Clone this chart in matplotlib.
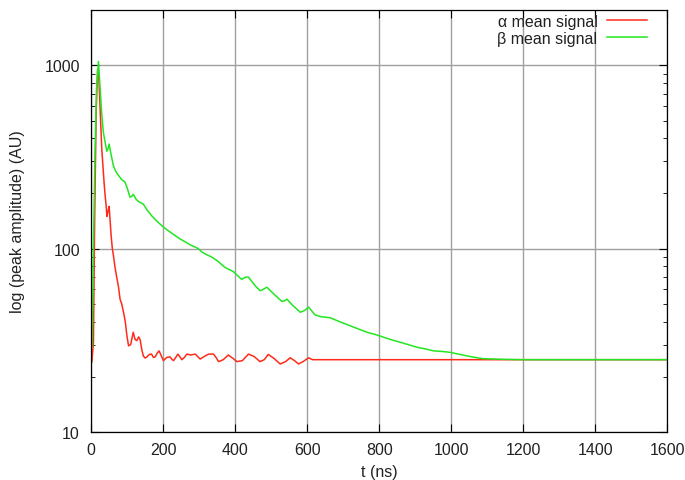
import matplotlib.pyplot as plt
from matplotlib.ticker import LogLocator, NullFormatter, FixedLocator

plt.rcParams['font.family'] = ['Liberation Sans', 'DejaVu Sans']

# alpha mean signal (t in ns, amplitude in AU)
t_alpha = [0, 2, 6.5, 10, 14, 18, 21, 25, 29.6, 33, 36, 39, 41.7, 44, 47, 50, 52, 55.6,
           59, 62, 66, 71, 76, 80.5, 85, 90, 95, 99, 104, 110, 117, 122, 127, 132, 136,
           141, 145, 150, 155, 162, 168, 173, 178, 184, 189, 195, 201, 210, 219, 224, 229,
           235, 241, 246, 252, 259, 266, 277, 289, 296, 303, 314, 326, 333, 340, 347, 354,
           367, 381, 393, 405, 420, 437, 453, 469, 481, 492, 508, 525, 540, 553, 565, 576,
           590, 604, 615, 630, 700, 800, 900, 1000, 1100, 1200, 1300, 1400, 1500, 1600]
a_alpha = [24, 24, 31, 150, 550, 950, 900, 580, 350, 280, 230, 195, 172, 150, 160, 170, 150, 118,
           100, 92, 80, 70, 62, 53, 50, 45, 40, 34, 29.5, 30, 35, 32, 31.5, 33, 32,
           28, 26, 25.3, 25.7, 26.5, 26.6, 25.5, 25.7, 27, 27.7, 26, 24.5, 25.5, 25.7, 25, 24.5,
           25.5, 26.6, 25.8, 24.8, 25.5, 26.6, 26.3, 26.6, 25.8, 25, 25.8, 26.6, 26.6, 26.6, 25.5, 24.2,
           24.8, 26.3, 25.3, 24.2, 24.5, 26.6, 25.8, 24.2, 24.8, 26.5, 25.2, 23.5, 24.2, 25.4, 24.5, 23.5,
           24.3, 25.4, 24.8, 24.8, 24.8, 24.8, 24.8, 24.8, 24.8, 24.8, 24.8, 24.8, 24.8, 24.8]

# beta mean signal
t_beta = [0, 3, 6.5, 11, 15, 20.4, 25, 29, 34, 39, 43.6, 47, 50, 55, 62, 68, 76, 85, 94,
          100, 108, 113, 117, 125, 133, 145, 156, 168.5, 180, 199, 215, 233, 247, 261, 275,
          289, 298, 307, 320, 335, 350, 372, 395, 418, 430, 437, 442, 455, 469, 478, 488,
          510, 530, 537, 544, 560, 581, 593, 604, 622, 640, 664, 690, 719, 742, 766, 790,
          812, 835, 858, 880, 905, 928, 951, 975, 997, 1020, 1044, 1067, 1090, 1120, 1150,
          1200, 1250, 1300, 1400, 1500, 1600]
a_beta = [28, 30, 100, 350, 750, 1050, 750, 560, 431, 380, 340, 350, 372, 330, 283, 265, 251, 238, 231,
          215, 191, 193, 198, 186, 180, 175, 162, 151, 143, 132, 125, 118, 113, 109, 105,
          102, 100, 96, 93, 90, 86, 79, 75, 68, 70, 70, 68, 63, 59, 60, 61.6,
          56, 51.5, 52, 53, 49, 45, 46, 48, 43.5, 42.5, 42, 40, 38, 36.5, 35, 34,
          32.9, 31.8, 30.9, 30, 29, 28.4, 27.7, 27.5, 27.2, 26.6, 26, 25.5, 25.1, 25, 24.9,
          24.8, 24.8, 24.8, 24.8, 24.8, 24.8]

fig = plt.figure(figsize=(6.85, 4.81), dpi=100)
ax = fig.add_axes([0.133, 0.0998, 0.841, 0.877])

ax.plot(t_alpha, a_alpha, color='#ff2a1a', lw=1.1, label='α mean signal')
ax.plot(t_beta, a_beta, color='#22e622', lw=1.1, label='β mean signal')

ax.set_yscale('log')
ax.set_xlim(0, 1600)
ax.set_ylim(10, 2000)
ax.xaxis.set_major_locator(FixedLocator(range(0, 1601, 200)))
ax.yaxis.set_major_locator(FixedLocator([10, 100, 1000]))
ax.yaxis.set_minor_locator(LogLocator(base=10, subs=range(2, 10)))
ax.yaxis.set_minor_formatter(NullFormatter())
ax.set_yticklabels(['10', '100', '1000'])

ax.grid(True, which='major', color='#a0a0a0', lw=1)
ax.tick_params(which='both', direction='in', top=True, right=True, labelsize=11.5,
               labelcolor='#222222')
ax.tick_params(which='major', length=6)
ax.tick_params(which='minor', length=3)
ax.tick_params(axis='x', pad=7)
ax.tick_params(axis='y', pad=8)
for s in ax.spines.values():
    s.set_linewidth(0.9)

ax.set_xlabel('t (ns)', fontsize=11.5, labelpad=5, color='#222222')
ax.set_ylabel('log (peak amplitude) (AU)', fontsize=11.5, labelpad=14, color='#222222')

leg = ax.legend(loc='upper right', bbox_to_anchor=(0.976, 1.006), frameon=False,
                markerfirst=False, fontsize=11.5, handlelength=2.5, borderaxespad=0,
                labelspacing=0.1, handletextpad=0.6)
for txt in leg.get_texts():
    txt.set_color('#222222')

fig.savefig('out.png', dpi=100)
